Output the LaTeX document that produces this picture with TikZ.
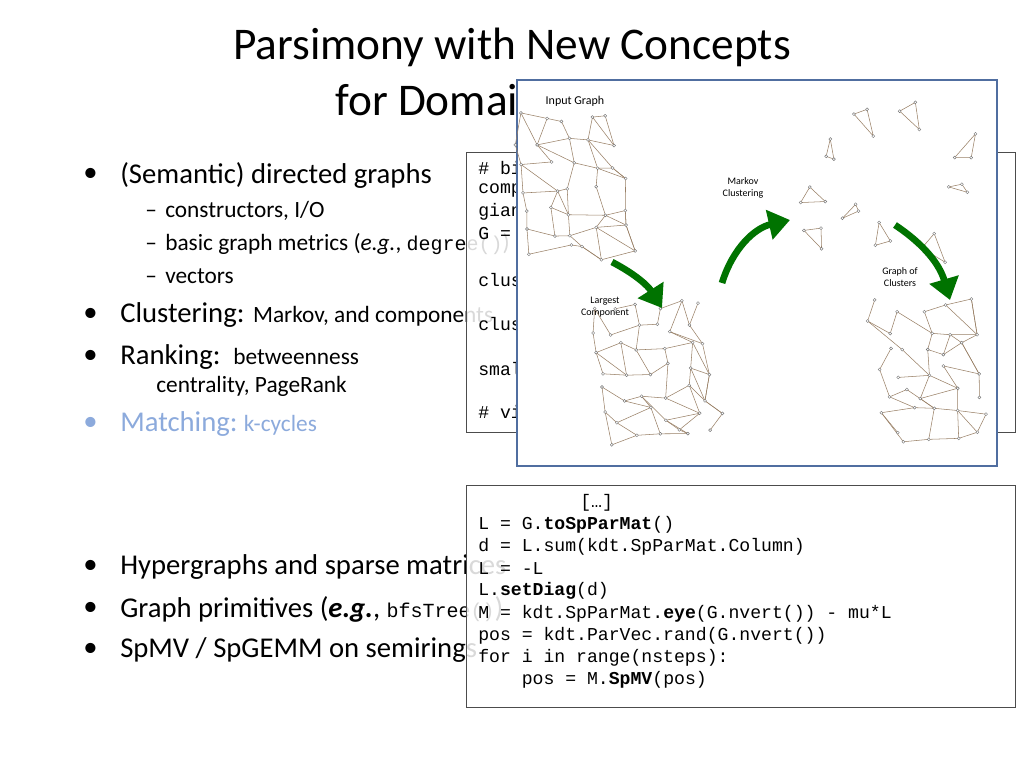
\documentclass[tikz,border=0pt]{standalone}
\usepackage{fontspec}
\usetikzlibrary{arrows.meta}
\setmainfont{Carlito}
\setmonofont{Liberation Mono}
\definecolor{paleblue}{RGB}{140,170,220}
\definecolor{panelblue}{RGB}{80,110,160}
\newcommand{\smtt}[1]{{\ttfamily\fontsize{15}{18}\selectfont #1}}
\begin{document}
\begin{tikzpicture}[x=0.75pt,y=-0.75pt,
  bul/.style={anchor=west, font=\fontsize{21.5}{24}\selectfont, inner sep=0},
  sub/.style={anchor=base west, font=\fontsize{17.5}{20}\selectfont, inner sep=0},
  code/.style={anchor=west, font=\ttfamily\fontsize{13.6}{15}\selectfont, inner sep=0},
  codebox/.style={draw=black!70, fill=white, fill opacity=0.85},
  lbl/.style={font=\fontsize{7.5}{8.5}\selectfont, align=center},
  vtx/.style={draw=black!55, fill=white, line width=0.3pt},
  edg/.style={draw=brown!40!gray, line width=0.4pt},
  grn/.style={draw=green!45!black, line width=5pt, -{Triangle[length=16pt,width=22pt]}}]
\useasboundingbox (0,0) rectangle (1024,768);
% title
\node[font=\fontsize{34}{40}\selectfont] (title) at (512,47) {Parsimony with New Concepts};
\node[font=\fontsize{34}{40}\selectfont, anchor=west, inner sep=0] (title2) at (335,100) {for Domain};
% bullets
\foreach \y/\t in {175/{(Semantic) directed graphs}, 567/{Hypergraphs and sparse matrices}, 609/{Graph primitives (\textit{\textbf{e.g.}}, \smtt{bfsTree()})}, 650/{SpMV / SpGEMM on semirings}}{
  \node[bul] at (83,\y) {•};
  \node[bul] at (120,\y) {\t};
}
\foreach \y/\t in {217/{constructors, I/O}, 250/{basic graph metrics (\textit{e.g.}, \smtt{degree()})}, 283/{vectors}}{
  \node[sub] at (145,\y) {–};
  \node[sub] at (165,\y) {\t};
}
\node[bul] at (83,315) {•};
\node[bul] at (120,315) {Clustering: {\fontsize{17.5}{20}\selectfont Markov, and components}};
\node[bul] at (83,357) {•};
\node[bul] at (120,357) {Ranking:\ \ {\fontsize{17.5}{20}\selectfont betweenness}};
\node[sub] at (156,392) {centrality, PageRank};
\node[bul, text=paleblue] at (83,424) {•};
\node[bul, text=paleblue] at (120,424) {Matching:\ {\fontsize{17.5}{20}\selectfont k-cycles}};
% upper code box
\path[codebox] (466,152) rectangle (1015,432);
\foreach \y/\t in {168/\# bi, 190/comp, 212/gian, 234/G =, 280/clus, 324/clus, 369/smal, 412/\# vi}
  \node[code] at (478,\y) {\t};
% lower code box
\path[codebox] (466,485) rectangle (1015,707);
\node[code] at (580,503) {[…]};
\foreach \y/\t in {525/{L = G.\textbf{toSpParMat}()}, 547/{d = L.sum(kdt.SpParMat.Column)}, 569/{L = -L}, 591/{L.\textbf{setDiag}(d)}, 614/{M = kdt.SpParMat.\textbf{eye}(G.nvert()) - mu*L}, 636/{pos = kdt.ParVec.rand(G.nvert())}, 658/{for i in range(nsteps):}, 680/{\ \ \ \ pos = M.\textbf{SpMV}(pos)}}
  \node[code] at (478,\y) {\t};
% overlay panel
\draw[draw=panelblue, line width=1.5pt, fill=white] (517,80) rectangle (997,466);
\node[lbl, anchor=west, font=\fontsize{9}{10}\selectfont] (ig) at (541,101) {Input Graph};
\node[lbl] (mc) at (743,188) {Markov\\Clustering};
\node[lbl] (lc) at (605,307) {Largest\\Component};
\node[lbl] (gc) at (900,277) {Graph of\\Clusters};
% graph drawings: jittered grids
\pgfmathsetseed{5}
\foreach \bx/\by/\nc/\nr/\k in {530/120/5/7/g, 598/305/6/7/h, 885/305/5/7/c}{
  \foreach \r in {1,...,\nr}\foreach \c in {1,...,\nc}{
    \pgfmathsetmacro\px{\bx+(\c-1)*22+6*(\r-4)*rnd+9*rand}
    \pgfmathsetmacro\py{\by+(\r-1)*22+8*rand}
    \coordinate (\k-\r-\c) at (\px,\py);
  }
  \foreach \r in {1,...,\nr}\foreach \c in {1,...,\nc}{
    \pgfmathtruncatemacro\cc{min(\c+1,\nc)}
    \pgfmathtruncatemacro\rr{min(\r+1,\nr)}
    \pgfmathsetmacro\pa{rnd}\pgfmathsetmacro\pb{rnd}\pgfmathsetmacro\pc{rnd}
    \ifdim\pa pt<0.7pt \draw[edg] (\k-\r-\c) -- (\k-\r-\cc);\fi
    \ifdim\pb pt<0.7pt \draw[edg] (\k-\r-\c) -- (\k-\rr-\c);\fi
    \ifdim\pc pt<0.4pt \draw[edg] (\k-\r-\c) -- (\k-\rr-\cc);\fi
  }
  \foreach \r in {1,...,\nr}\foreach \c in {1,...,\nc} \path[vtx] (\k-\r-\c) circle (1.5);
}
% markov clusters: small separate groups
\foreach \cx/\cy in {830/150, 870/120, 915/115, 850/210, 880/240, 960/190, 820/235, 935/250, 970/150, 810/200}{
  \foreach \a in {0,120,240}{
    \pgfmathsetmacro\r{6+12*rnd}
    \coordinate (q\a) at ([shift={(\a+90*rnd:\r)}]\cx,\cy);
  }
  \draw[edg] (q0) -- (q120) -- (q240) -- cycle;
  \foreach \a in {0,120,240} \path[vtx] (q\a) circle (1.5);
}
% arrows
\draw[grn] (612,262) to[bend left=15] (662,308);
\draw[grn] (722,283) to[bend left=30] (790,220);
\draw[grn] (895,225) to[bend left=20] (950,300);
\end{tikzpicture}
\end{document}
